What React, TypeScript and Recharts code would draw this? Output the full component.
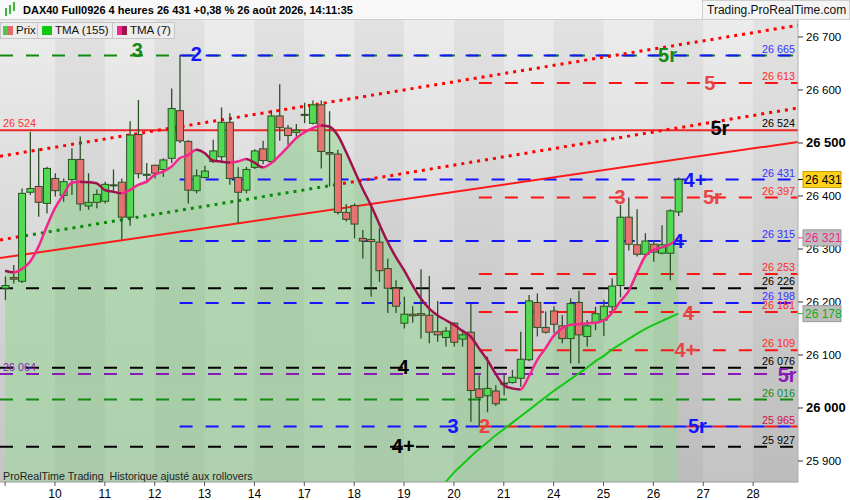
import React from 'react';
import {ComposedChart, Bar, Line, Area, XAxis, YAxis, ReferenceLine, ReferenceArea, ReferenceDot} from 'recharts';

// 4h candles, index 0 = Fri 7 Aug, 00:00
const opens = [26226, 26246, 26239, 26407, 26418, 26386, 26433, 26401, 26431, 26469, 26381, 26388, 26390, 26420, 26426, 26360, 26516, 26439, 26458, 26450, 26471, 26561, 26503, 26410, 26435, 26465, 26474, 26539, 26435, 26411, 26454, 26489, 26465, 26551, 26528, 26520, 26552, 26537, 26572, 26482, 26479, 26369, 26382, 26320, 26318, 26313, 26263, 26226, 26160, 26177, 26178, 26175, 26144, 26133, 26160, 26130, 26143, 26036, 26023, 26032, 26046, 26048, 26056, 26091, 26199, 26152, 26183, 26155, 26131, 26199, 26135, 26161, 26166, 26191, 26231, 26360, 26308, 26290, 26309, 26292, 26292, 26370];
const highs = [26248, 26270, 26414, 26521, 26490, 26455, 26443, 26433, 26490, 26512, 26443, 26412, 26427, 26450, 26433, 26541, 26581, 26462, 26459, 26471, 26603, 26665, 26505, 26450, 26457, 26506, 26567, 26556, 26454, 26455, 26488, 26504, 26562, 26611, 26534, 26536, 26576, 26580, 26580, 26560, 26487, 26385, 26386, 26336, 26386, 26339, 26282, 26241, 26210, 26192, 26262, 26249, 26202, 26153, 26162, 26144, 26196, 26062, 26097, 26043, 26065, 26072, 26144, 26213, 26216, 26182, 26192, 26175, 26207, 26221, 26166, 26191, 26204, 26245, 26383, 26397, 26375, 26330, 26317, 26345, 26375, 26435];
const lows = [26204, 26235, 26236, 26402, 26361, 26367, 26399, 26389, 26402, 26372, 26374, 26377, 26386, 26408, 26318, 26344, 26433, 26424, 26433, 26436, 26462, 26500, 26386, 26405, 26433, 26462, 26462, 26421, 26348, 26405, 26451, 26460, 26462, 26504, 26496, 26512, 26537, 26535, 26452, 26418, 26365, 26352, 26320, 26282, 26210, 26238, 26179, 26179, 26150, 26161, 26131, 26122, 26125, 26116, 26116, 26116, 25974, 25965, 25992, 26004, 26024, 26046, 26040, 26088, 26135, 26140, 26141, 26122, 26084, 26084, 26116, 26147, 26136, 26182, 26209, 26297, 26286, 26287, 26276, 26290, 26241, 26362];
const closes = [26231, 26243, 26405, 26414, 26388, 26452, 26410, 26427, 26469, 26385, 26388, 26403, 26422, 26421, 26360, 26515, 26442, 26441, 26443, 26468, 26565, 26504, 26411, 26438, 26447, 26485, 26539, 26433, 26407, 26450, 26485, 26467, 26551, 26529, 26514, 26524, 26554, 26572, 26484, 26479, 26369, 26356, 26347, 26315, 26314, 26259, 26226, 26192, 26177, 26174, 26175, 26143, 26138, 26145, 26124, 26138, 26033, 26020, 26037, 26008, 26047, 26058, 26092, 26202, 26152, 26143, 26158, 26131, 26197, 26138, 26155, 26178, 26192, 26230, 26360, 26309, 26290, 26315, 26294, 26308, 26372, 26431];
const tma7 = [26259, 26256, 26262, 26276, 26304, 26342, 26377, 26402, 26425, 26427, 26426, 26424, 26411, 26408, 26405, 26411, 26421, 26427, 26440, 26446, 26455, 26471, 26477, 26487, 26481, 26467, 26465, 26463, 26465, 26470, 26463, 26454, 26462, 26476, 26492, 26509, 26520, 26528, 26533, 26531, 26515, 26484, 26449, 26414, 26383, 26348, 26314, 26285, 26260, 26232, 26207, 26188, 26175, 26166, 26157, 26146, 26135, 26113, 26091, 26065, 26043, 26037, 26035, 26059, 26090, 26112, 26136, 26150, 26157, 26158, 26160, 26161, 26165, 26179, 26201, 26220, 26254, 26286, 26298, 26303, 26309, 26321];
const tma155Start = 52;
const tma155 = [25840, 25860, 25878, 25893, 25908, 25922, 25935, 25948, 25960, 25972, 25984, 25996, 26008, 26020, 26032, 26043, 26054, 26065, 26076, 26088, 26098, 26110, 26120, 26130, 26140, 26149, 26157, 26164, 26171, 26178];

const dayLabels = ['', '10', '11', '12', '13', '14', '17', '18', '19', '20', '21', '24', '25', '26', '27', '28'];
const yTicks = [25900, 26000, 26100, 26200, 26300, 26400, 26500, 26600, 26700];

const X_MIN = -0.614;
const X_MAX = 95.4;
const Y_MIN = 25860.4;
const Y_MAX = 26732;

const BLUE = '#1414ff';
const RED = '#ff1414';
const GREEN = '#128a12';
const BLACK = '#000000';
const PURPLE = '#8a1ab8';
const PINK = '#f2268c';
const MAROON = '#a0124e';

// horizontal dashed levels
const levelValues = [26665, 26665, 26613, 26431, 26397, 26315, 26253, 26226, 26198, 26181, 26109, 26076, 26064, 26016, 25965, 25965, 25927];
const levelFrom = [X_MIN, 21, 57, 21, 57, 21, 57, X_MIN, 21, 57, 57, X_MIN, X_MIN, X_MIN, 21, 57, X_MIN];
const levelColors = [GREEN, BLUE, RED, BLUE, RED, BLUE, RED, BLACK, BLUE, RED, RED, BLACK, PURPLE, GREEN, BLUE, RED, BLACK];

// small value texts at the right edge of the plot
const tagValues = [26665, 26613, 26524, 26431, 26397, 26315, 26253, 26226, 26198, 26181, 26109, 26076, 26016, 25965, 25927];
const tagColors = ['#3434ff', '#ff2a2a', BLACK, '#3434ff', '#ff2a2a', '#3434ff', '#ff2a2a', BLACK, '#3434ff', '#ff2a2a', '#ff2a2a', BLACK, GREEN, '#d0104a', BLACK];

// texts at the left edge
const leftValues = [26524, 26064];
const leftColors = ['#ff3030', PURPLE];

// big level names
const markTexts = ['3', '2', '5r', '5', '5r', '4+', '3', '5r', '4', '4', '4+', '4', '5r', '3', '2', '5r', '4+'];
const markIdx = [15.9, 23.0, 79.7, 84.8, 86.0, 83.0, 74.0, 85.1, 81.0, 82.2, 81.9, 47.9, 94.1, 53.9, 57.7, 83.3, 47.9];
const markVals = [26675, 26668, 26666, 26613, 26528, 26430, 26398, 26398, 26315, 26179, 26109, 26077, 26062, 25966, 25966, 25966, 25928];
const markColors = [GREEN, BLUE, GREEN, '#e84444', BLACK, BLUE, '#e84444', '#e84444', BLUE, '#e84444', '#e84444', BLACK, PURPLE, BLUE, '#e84444', BLUE, BLACK];

// price tags on the axis
const axisTagValues = [26431, 26321, 26178];
const axisTagBg = ['#ffd21a', '#bdbdbd', '#bdbdbd'];
const axisTagText = [BLACK, PINK, '#10b010'];

// trend lines as [index, value] end points
const solidTrend = [[X_MIN, 26283], [X_MAX, 26502]];
const upperDotted = [[X_MIN, 26475], [X_MAX, 26722]];
const lowerDottedRedA = [[X_MIN, 26317], [2.4, 26325]];
const lowerDottedGreen = [[2.4, 26325], [39.7, 26421]];
const lowerDottedRedB = [[39.7, 26421], [X_MAX, 26566]];

const FONT = 'Arial, "Liberation Sans", sans-serif';

const fmt = (v: number) => `${Math.floor(v / 1000)} ${String(Math.round(v) % 1000).padStart(3, '0')}`;

const data = opens.map((o, i) => ({
    i,
    o,
    h: highs[i],
    l: lows[i],
    c: closes[i],
    range: [lows[i], highs[i]],
    tma7: tma7[i],
    tma155: i >= tma155Start ? tma155[i - tma155Start] : null,
}));

const Candle = (props: any) => {
    const {x, y, width, height, payload} = props;
    if (!payload) return null;
    const {o, h, l, c} = payload;
    const top = Math.min(y, y + height);
    const span = Math.abs(height);
    const py = (v: number) => top + (h === l ? 0 : ((h - v) / (h - l)) * span);
    const cx = x + width / 2;
    const up = c >= o;
    const bTop = py(Math.max(o, c));
    const bBot = py(Math.min(o, c));
    return (
        <g>
            <line x1={cx} x2={cx} y1={py(h)} y2={py(l)} stroke="#2b5224" strokeWidth={1.3}/>
            <rect x={cx - 3.5} y={bTop} width={7} height={Math.max(bBot - bTop, 1)}
                  fill={up ? '#52da52' : '#e67272'} stroke="#2b5224" strokeWidth={1}/>
        </g>
    );
};

const YTick = (props: any) => {
    const {x, y, payload} = props;
    const big = payload.value % 500 === 0;
    return (
        <text x={x + 1} y={y + 4} fontSize={big ? 13 : 11.5} fontWeight={big ? 'bold' : 'normal'}
              fill="#000" fontFamily={FONT}>{fmt(payload.value)}</text>
    );
};

const XTick = (props: any) => {
    const {x, y, payload} = props;
    const k = Math.round(payload.value / 6);
    return (
        <text x={x} y={y + 10} fontSize={12} textAnchor="middle" fill="#000" fontFamily={FONT}>{dayLabels[k]}</text>
    );
};

const tmaStops: React.ReactNode[] = [];
for (let k = 0; k < tma7.length - 1; k++) {
    const col = tma7[k + 1] >= tma7[k] ? PINK : MAROON;
    const n = tma7.length - 1;
    tmaStops.push(<stop key={`a${k}`} offset={k / n} stopColor={col}/>);
    tmaStops.push(<stop key={`b${k}`} offset={(k + 1) / n} stopColor={col}/>);
}

const darkDays = [1, 3, 5, 7, 9, 11, 13, 15];

const seg = (p: number[][]) => [{x: p[0][0], y: p[0][1]}, {x: p[1][0], y: p[1][1]}];

const box: React.CSSProperties = {
    position: 'absolute', top: 22, height: 17, background: '#ececec', border: '1px solid #c6c6c6',
    fontSize: 11.5, lineHeight: '15px', color: '#111', boxSizing: 'border-box', whiteSpace: 'nowrap',
};

const App = () => {
    return (
        <div style={{position: 'fixed', left: 0, top: 0, width: 850, height: 500, background: '#fff', overflow: 'hidden', fontFamily: FONT}}>
            <div style={{position: 'absolute', left: 0, top: 20, width: 798, height: 462, background: 'linear-gradient(#ececec, #c4c4c4)'}}/>
            <div style={{position: 'absolute', left: 0, top: 0}}>
                <ComposedChart width={850} height={500} data={data} margin={{top: 20, right: 0, bottom: 0, left: 0}}>
                    <defs>
                        <linearGradient id="tmaGrad" x1="0" y1="0" x2="1" y2="0">
                            {tmaStops}
                        </linearGradient>
                        <linearGradient id="fillGrad" x1="0" y1="0" x2="0" y2="1">
                            <stop offset="0" stopColor="#10c010" stopOpacity={0.2}/>
                            <stop offset="1" stopColor="#78f078" stopOpacity={0.28}/>
                        </linearGradient>
                    </defs>
                    <XAxis dataKey="i" type="number" domain={[X_MIN, X_MAX]} allowDataOverflow
                           ticks={dayLabels.map((_, k) => k * 6)} tick={<XTick/>} height={18}
                           axisLine={{stroke: '#9a9a9a'}} tickLine={{stroke: '#555'}} tickSize={4} interval={0}/>
                    <YAxis orientation="right" type="number" domain={[Y_MIN, Y_MAX]} allowDataOverflow
                           ticks={yTicks} tick={<YTick/>} width={52} axisLine={{stroke: '#b0b0b0'}}
                           tickLine={{stroke: '#333'}} tickSize={5} interval={0}/>
                    {darkDays.map((d) => (
                        <ReferenceArea key={`d${d}`} x1={d * 6} x2={Math.min(d * 6 + 6, X_MAX)} y1={Y_MIN} y2={Y_MAX}
                                       fill="#000" fillOpacity={0.04} stroke="none" ifOverflow="hidden" zIndex={-50}/>
                    ))}
                    <Area dataKey="tma7" type="linear" baseValue={Y_MIN} fill="url(#fillGrad)" fillOpacity={1}
                          stroke="none" isAnimationActive={false} dot={false} activeDot={false} zIndex={100}/>
                    {levelValues.map((v, k) => (
                        <ReferenceLine key={`lv${k}`} segment={[{x: levelFrom[k], y: v}, {x: X_MAX, y: v}]}
                                       stroke={levelColors[k]} strokeWidth={2} strokeDasharray="13 13" ifOverflow="hidden" zIndex={150}/>
                    ))}
                    <ReferenceLine y={26524} stroke="#ec2626" strokeWidth={2} ifOverflow="hidden" zIndex={150}/>
                    <ReferenceLine segment={seg(solidTrend)} stroke="#ff1a1a" strokeWidth={2} ifOverflow="hidden" zIndex={150}/>
                    <ReferenceLine segment={seg(upperDotted)} stroke="#ff0000" strokeWidth={3} strokeDasharray="3 5" ifOverflow="hidden" zIndex={150}/>
                    <ReferenceLine segment={seg(lowerDottedRedA)} stroke="#ff0000" strokeWidth={3} strokeDasharray="3 5" ifOverflow="hidden" zIndex={150}/>
                    <ReferenceLine segment={seg(lowerDottedGreen)} stroke="#0a8a0a" strokeWidth={3} strokeDasharray="3 5" ifOverflow="hidden" zIndex={150}/>
                    <ReferenceLine segment={seg(lowerDottedRedB)} stroke="#ff0000" strokeWidth={3} strokeDasharray="3 5" ifOverflow="hidden" zIndex={150}/>
                    <Bar dataKey="range" barSize={7} isAnimationActive={false} zIndex={300}
                         shape={(p: any) => <Candle {...p}/>}/>
                    <Line dataKey="tma155" type="monotone" stroke="#12c812" strokeWidth={2} dot={false} activeDot={false}
                          isAnimationActive={false} connectNulls={false} zIndex={400}/>
                    <Line dataKey="tma7" type="monotone" stroke="url(#tmaGrad)" strokeWidth={2.5} dot={false} activeDot={false}
                          isAnimationActive={false} zIndex={400}/>
                    {markTexts.map((t, k) => (
                        <ReferenceDot key={`m${k}`} x={markIdx[k]} y={markVals[k]} r={0} ifOverflow="visible" zIndex={1900}
                                      shape={(p: any) => (
                                          <text x={p.cx} y={p.cy + 7} textAnchor="middle" fontSize={20} fontWeight="bold"
                                                fill={markColors[k]} fontFamily={FONT}>{t}</text>
                                      )}/>
                    ))}
                    {tagValues.map((v, k) => (
                        <ReferenceDot key={`t${k}`} x={X_MAX} y={v} r={0} ifOverflow="visible" zIndex={2000}
                                      shape={(p: any) => (
                                          <text x={p.cx - 3} y={p.cy - 3} textAnchor="end" fontSize={10.8}
                                                fill={tagColors[k]} fontFamily={FONT}>{fmt(v)}</text>
                                      )}/>
                    ))}
                    {leftValues.map((v, k) => (
                        <ReferenceDot key={`l${k}`} x={X_MIN} y={v} r={0} ifOverflow="visible" zIndex={2000}
                                      shape={(p: any) => (
                                          <text x={p.cx + 3} y={p.cy - 3} fontSize={10.8}
                                                fill={leftColors[k]} fontFamily={FONT}>{fmt(v)}</text>
                                      )}/>
                    ))}
                    {axisTagValues.map((v, k) => (
                        <ReferenceDot key={`a${k}`} x={X_MAX} y={v} r={0} ifOverflow="visible" zIndex={2000}
                                      shape={(p: any) => (
                                          <g>
                                              <line x1={p.cx} x2={p.cx + 5} y1={p.cy} y2={p.cy} stroke={k === 0 ? '#000' : axisTagText[k]} strokeWidth={1}/>
                                              <rect x={p.cx + 5} y={p.cy - 8} width={38} height={16} fill={axisTagBg[k]}
                                                    stroke={k === 0 ? '#c8a000' : '#9a9a9a'} strokeWidth={1}/>
                                              <text x={p.cx + 7} y={p.cy + 4.5} fontSize={12} fill={axisTagText[k]}
                                                    fontFamily={FONT}>{fmt(v)}</text>
                                          </g>
                                      )}/>
                    ))}
                </ComposedChart>
            </div>
            {/* header */}
            <div style={{position: 'absolute', left: 0, top: 0, width: 850, height: 20, background: '#f8f8f8', borderBottom: '1px solid #cfcfcf', boxSizing: 'border-box'}}/>
            <div style={{position: 'absolute', left: 5, top: 8, width: 2, height: 8, background: '#3ab83a'}}/>
            <div style={{position: 'absolute', left: 9, top: 5, width: 2, height: 9, background: '#3ab83a'}}/>
            <div style={{position: 'absolute', left: 13, top: 2, width: 2, height: 9, background: '#3ab83a'}}/>
            <div style={{position: 'absolute', left: 23, top: 4, fontSize: 11, fontWeight: 'bold', color: '#000', whiteSpace: 'nowrap'}}>
                DAX40 Full0926 4 heures 26 431 +0,38 % 26 août 2026, 14:11:35
            </div>
            <div style={{position: 'absolute', left: 702, top: 0, width: 148, height: 20, background: '#f4f4f4', border: '1px solid #cfcfcf', boxSizing: 'border-box', fontSize: 12, lineHeight: '19px', paddingLeft: 4, color: '#111', whiteSpace: 'nowrap'}}>
                Trading.ProRealTime.com
            </div>
            {/* legend */}
            <div style={{...box, left: 0, width: 38}}>
                <span style={{position: 'absolute', left: 2, top: 3, width: 5, height: 9, background: '#4cc84c'}}/>
                <span style={{position: 'absolute', left: 7, top: 3, width: 5, height: 9, background: '#e46a6a'}}/>
                <span style={{position: 'absolute', left: 15, top: 0}}>Prix</span>
            </div>
            <div style={{...box, left: 37, width: 76}}>
                <span style={{position: 'absolute', left: 4, top: 3, width: 10, height: 9, background: '#10c810'}}/>
                <span style={{position: 'absolute', left: 17, top: 0}}>TMA (155)</span>
            </div>
            <div style={{...box, left: 112, width: 63}}>
                <span style={{position: 'absolute', left: 4, top: 3, width: 5, height: 9, background: PINK}}/>
                <span style={{position: 'absolute', left: 9, top: 3, width: 5, height: 9, background: MAROON}}/>
                <span style={{position: 'absolute', left: 17, top: 0}}>TMA (7)</span>
            </div>
            <div style={{position: 'absolute', left: 3, top: 470, fontSize: 10.7, color: '#222', whiteSpace: 'pre'}}>
                ProRealTime Trading  Historique ajusté aux rollovers
            </div>
        </div>
    );
};

export default App;
